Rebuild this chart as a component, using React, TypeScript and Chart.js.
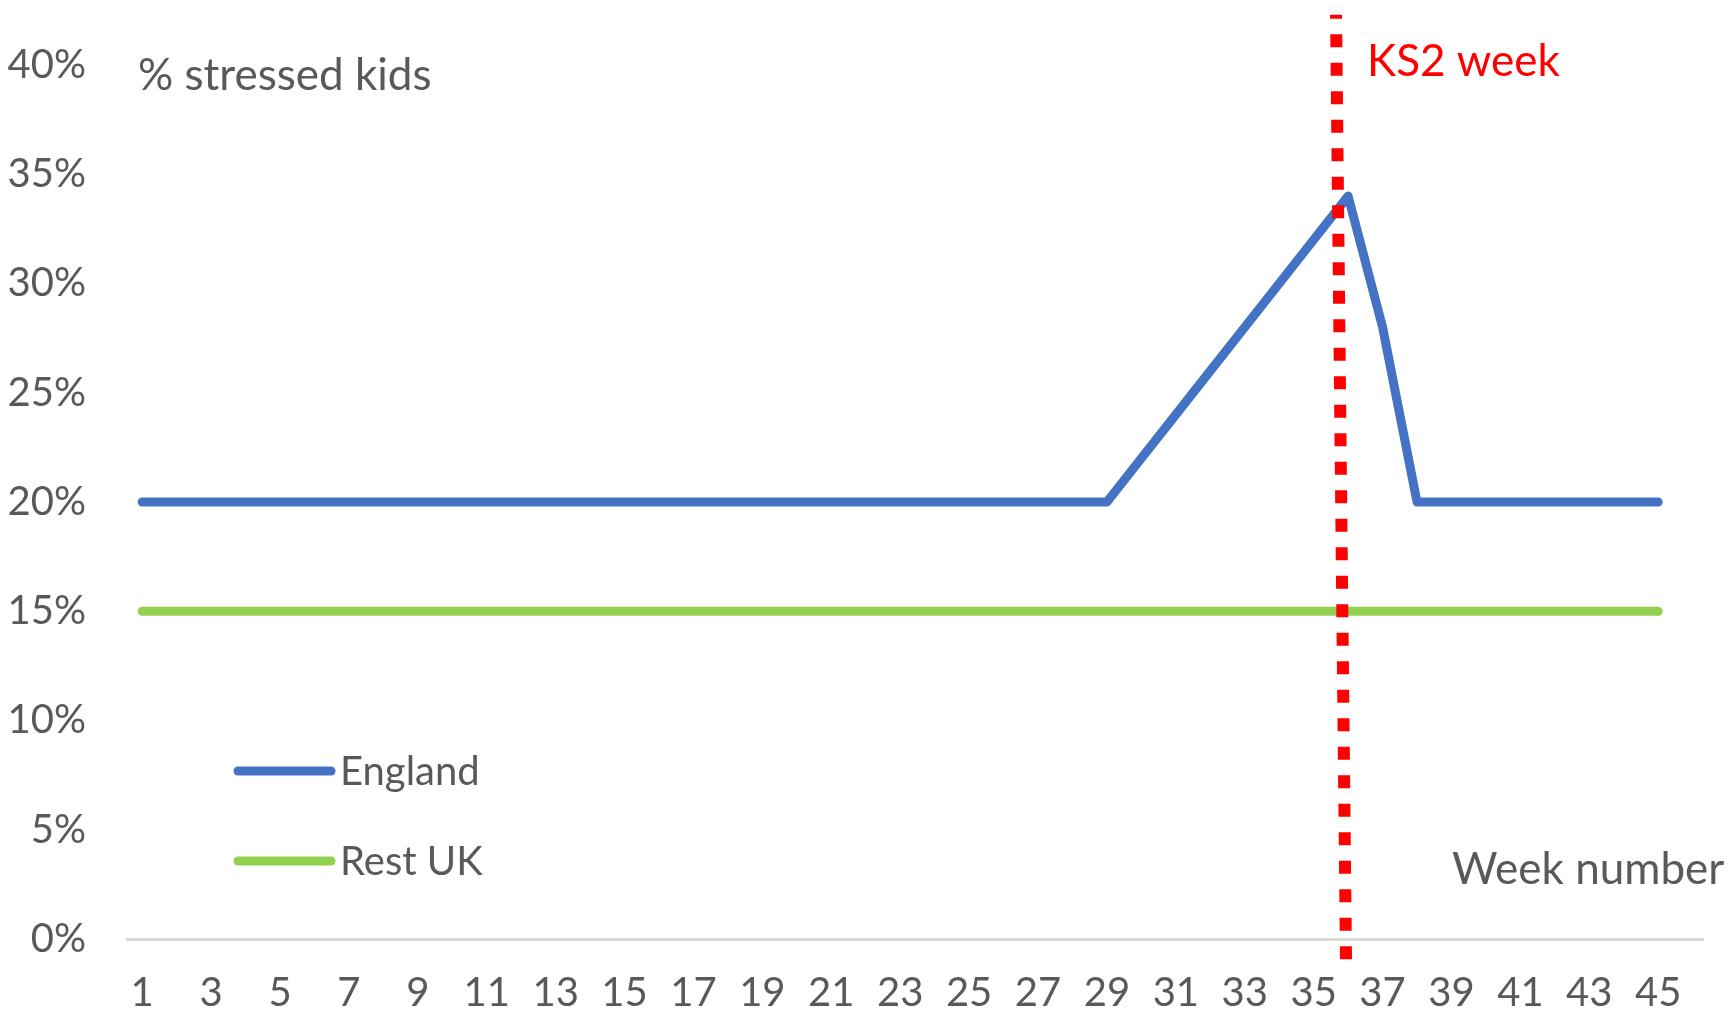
import React, { useEffect, useRef } from "react";
import { Chart, registerables } from "chart.js";

Chart.register(...registerables);

// ---- Data ----
const weeks = [
  1, 2, 3, 4, 5, 6, 7, 8, 9, 10, 11, 12, 13, 14, 15, 16, 17, 18, 19, 20, 21, 22, 23,
  24, 25, 26, 27, 28, 29, 30, 31, 32, 33, 34, 35, 36, 37, 38, 39, 40, 41, 42, 43, 44, 45,
];
const englandPct = [
  20, 20, 20, 20, 20, 20, 20, 20, 20, 20, 20, 20, 20, 20, 20, 20, 20, 20, 20, 20, 20, 20, 20,
  20, 20, 20, 20, 20, 20, 22, 24, 26, 28, 30, 32, 34, 28, 20, 20, 20, 20, 20, 20, 20, 20,
];
const restUkPct = [
  15, 15, 15, 15, 15, 15, 15, 15, 15, 15, 15, 15, 15, 15, 15, 15, 15, 15, 15, 15, 15, 15, 15,
  15, 15, 15, 15, 15, 15, 15, 15, 15, 15, 15, 15, 15, 15, 15, 15, 15, 15, 15, 15, 15, 15,
];
const seriesNames = ["England", "Rest UK"];
const ks2WeekLine = [
  { x: 35.65, y: 42.3 },
  { x: 35.94, y: -1.05 },
];
const xTickValues = [1, 3, 5, 7, 9, 11, 13, 15, 17, 19, 21, 23, 25, 27, 29, 31, 33, 35, 37, 39, 41, 43, 45];
const yTickValues = [0, 5, 10, 15, 20, 25, 30, 35, 40];
const yAxisTitle = "% stressed kids";
const xAxisTitle = "Week number";
const ks2Label = "KS2 week";

const FONT = "Lato, 'Open Sans', sans-serif";
const GREY = "#595959";
const BLUE = "#4472C4";
const GREEN = "#92D050";
const RED = "#FF0000";

const textPlugin = {
  id: "customText",
  afterDraw(chart: any) {
    const ctx = chart.ctx;
    ctx.save();
    ctx.textBaseline = "middle";
    ctx.textAlign = "left";
    ctx.font = `44px ${FONT}`;
    ctx.fillStyle = GREY;
    ctx.fillText(yAxisTitle, 138, 76);
    ctx.fillText(xAxisTitle, 1452, 870);
    ctx.fillStyle = RED;
    ctx.fillText(ks2Label, 1367, 62);

    // legend
    const legendRows = [
      { name: seriesNames[0], color: BLUE, y: 771 },
      { name: seriesNames[1], color: GREEN, y: 861 },
    ];
    ctx.lineCap = "round";
    ctx.lineWidth = 9;
    for (const r of legendRows) {
      ctx.strokeStyle = r.color;
      ctx.beginPath();
      ctx.moveTo(238, r.y);
      ctx.lineTo(331, r.y);
      ctx.stroke();
      ctx.fillStyle = GREY;
      ctx.font = `40px ${FONT}`;
      ctx.fillText(r.name, 340, r.y + 1);
    }
    ctx.restore();
  },
};

export default function App() {
  const ref = useRef<HTMLCanvasElement | null>(null);
  useEffect(() => {
    document.body.style.margin = "0";
    const canvas = ref.current!;
    const chart = new Chart(canvas, {
      type: "line",
      data: {
        datasets: [
          {
            label: "KS2 week",
            data: ks2WeekLine,
            borderColor: RED,
            borderWidth: 12,
            borderDash: [13, 15.5],
            borderDashOffset: 9,
            borderCapStyle: "butt",
            pointRadius: 0,
            clip: false as any,
            order: 0,
          },
          {
            label: seriesNames[0],
            data: weeks.map((w, i) => ({ x: w, y: englandPct[i] })),
            borderColor: BLUE,
            borderWidth: 9,
            borderCapStyle: "round",
            borderJoinStyle: "round",
            pointRadius: 0,
            tension: 0,
            clip: false as any,
            order: 1,
          },
          {
            label: seriesNames[1],
            data: weeks.map((w, i) => ({ x: w, y: restUkPct[i] })),
            borderColor: GREEN,
            borderWidth: 9,
            borderCapStyle: "round",
            borderJoinStyle: "round",
            pointRadius: 0,
            tension: 0,
            clip: false as any,
            order: 2,
          },
        ],
      },
      options: {
        responsive: false,
        animation: false,
        layout: { padding: { left: 0, top: 61, right: 31, bottom: 0 } },
        plugins: { legend: { display: false }, tooltip: { enabled: false } },
        scales: {
          x: {
            type: "linear",
            min: 0.56,
            max: 46.3,
            grid: { display: false, drawTicks: false },
            border: { display: true, color: "#d9d9d9", width: 3 },
            ticks: {
              color: GREY,
              font: { family: FONT, size: 40 },
              padding: 30,
              maxRotation: 0,
              autoSkip: false,
              callback: (v: any) => String(v),
            },
            afterBuildTicks: (s: any) => {
              s.ticks = xTickValues.map((v) => ({ value: v }));
            },
            afterFit: (s: any) => {
              s.height = 75;
            },
          },
          y: {
            type: "linear",
            min: 0,
            max: 40,
            grid: { display: false, drawTicks: false },
            border: { display: false },
            ticks: {
              color: GREY,
              font: { family: FONT, size: 40 },
              padding: 41,
              callback: (v: any) => `${v}%`,
            },
            afterBuildTicks: (s: any) => {
              s.ticks = yTickValues.map((v) => ({ value: v }));
            },
            afterFit: (s: any) => {
              s.width = 127;
            },
          },
        },
      },
      plugins: [textPlugin],
    });
    return () => chart.destroy();
  }, []);
  return <canvas ref={ref} width={1734} height={1014} style={{ display: "block" }} />;
}
